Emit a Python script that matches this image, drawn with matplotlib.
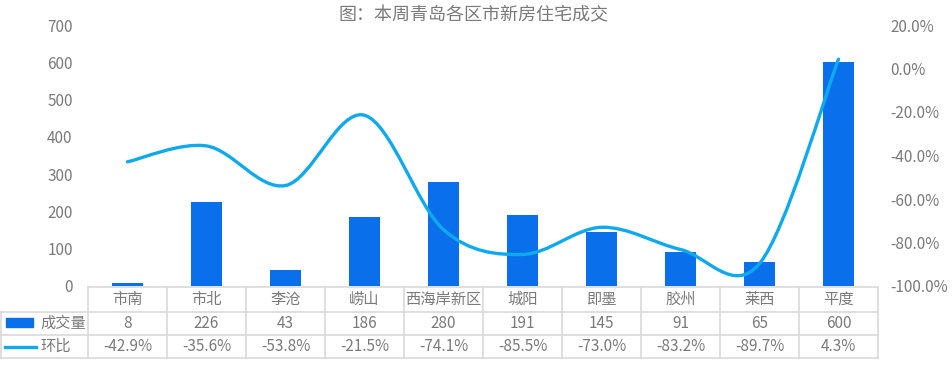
import numpy as np
import matplotlib.pyplot as plt
from matplotlib.path import Path
from matplotlib.patches import PathPatch, Rectangle
from matplotlib.lines import Line2D

plt.rcParams['font.family'] = ['Noto Sans CJK SC', 'DejaVu Sans']

title = '图：本周青岛各区市新房住宅成交'
districts = ['市南', '市北', '李沧', '崂山', '西海岸新区', '城阳', '即墨', '胶州', '莱西', '平度']
volume = [8, 226, 43, 186, 280, 191, 145, 91, 65, 600]
mom = [-42.9, -35.6, -53.8, -21.5, -74.1, -85.5, -73.0, -83.2, -89.7, 4.3]
series_names = ['成交量', '环比']

bar_color = '#0A6FEB'
line_color = '#0FAAEE'
text_color = '#7A7A7A'
grid_color = '#D9D9D9'

W, H = 952, 384
fig = plt.figure(figsize=(W / 100, H / 100), dpi=100)

x0, x1 = 88, 878
y_top, y_bot = 25, 286
ax = fig.add_axes([x0 / W, 1 - y_bot / H, (x1 - x0) / W, (y_bot - y_top) / H])
n = len(districts)
x = np.arange(n)
ax.bar(x, volume, width=0.4, color=bar_color, zorder=2)
ax.set_xlim(-0.5, n - 0.5)
ax.set_ylim(0, 700)
ax.set_yticks(range(0, 701, 100))
ax.set_xticks([])
for s in ax.spines.values():
    s.set_visible(False)
ax.tick_params(axis='y', length=0, labelsize=11, labelcolor=text_color, pad=11)

ax2 = ax.twinx()
ax2.set_ylim(-100, 20)
ax2.set_yticks(range(-100, 21, 20))
ax2.set_yticklabels([f'{v:.1f}%' for v in range(-100, 21, 20)])
for s in ax2.spines.values():
    s.set_visible(False)
ax2.tick_params(axis='y', length=0, labelsize=11, labelcolor=text_color, pad=9)

# smoothed line (Catmull-Rom style bezier, like Excel smoothing)
pts = np.column_stack([x, mom]).astype(float)
verts = [pts[0]]
codes = [Path.MOVETO]
t = 1 / 6
for i in range(n - 1):
    p0 = pts[i - 1] if i > 0 else pts[i]
    p1 = pts[i]
    p2 = pts[i + 1]
    p3 = pts[i + 2] if i + 2 < n else pts[i + 1]
    c1 = p1 + (p2 - p0) * t
    c2 = p2 - (p3 - p1) * t
    verts += [c1, c2, p2]
    codes += [Path.CURVE4] * 3
ax2.add_patch(PathPatch(Path(verts, codes), fill=False, edgecolor=line_color,
                        lw=2.4, capstyle='round', zorder=3))

fig.text(473 / W, 1 - 15 / H, title, ha='center', va='center',
         fontsize=13, color=text_color)

# data table
col_w = (x1 - x0) / n
rows_y = [287, 312, 335, 358]
def fx(px):
    return px / W
def fy(py):
    return 1 - py / H

lines = []
lines.append(([x0, x1], [rows_y[0], rows_y[0]]))
for yy in rows_y[1:]:
    lines.append(([0, x1], [yy, yy]))
for i in range(n + 1):
    xx = x0 + i * col_w
    lines.append(([xx, xx], [rows_y[0], rows_y[3]]))
lines.append(([0.5, 0.5], [rows_y[1], rows_y[3]]))
for xs, ys in lines:
    fig.add_artist(Line2D([fx(v) for v in xs], [fy(v) for v in ys],
                          color=grid_color, lw=1.2))

for i in range(n):
    cx = fx(x0 + (i + 0.5) * col_w)
    fig.text(cx, fy((rows_y[0] + rows_y[1]) / 2), districts[i], ha='center', va='center',
             fontsize=11, color=text_color)
    fig.text(cx, fy((rows_y[1] + rows_y[2]) / 2), str(volume[i]), ha='center', va='center',
             fontsize=11, color=text_color)
    fig.text(cx, fy((rows_y[2] + rows_y[3]) / 2), f'{mom[i]:.1f}%', ha='center', va='center',
             fontsize=11, color=text_color)

# legend keys
fig.add_artist(Rectangle((fx(6), fy(327)), (33 - 6) / W, 9 / H, color=bar_color))
fig.add_artist(Line2D([fx(5), fx(36)], [fy(347), fy(347)], color=line_color, lw=2.4))
fig.text(fx(40), fy((rows_y[1] + rows_y[2]) / 2), series_names[0], ha='left', va='center',
         fontsize=11, color=text_color)
fig.text(fx(40), fy((rows_y[2] + rows_y[3]) / 2), series_names[1], ha='left', va='center',
         fontsize=11, color=text_color)

fig.savefig('out.png', dpi=100)
